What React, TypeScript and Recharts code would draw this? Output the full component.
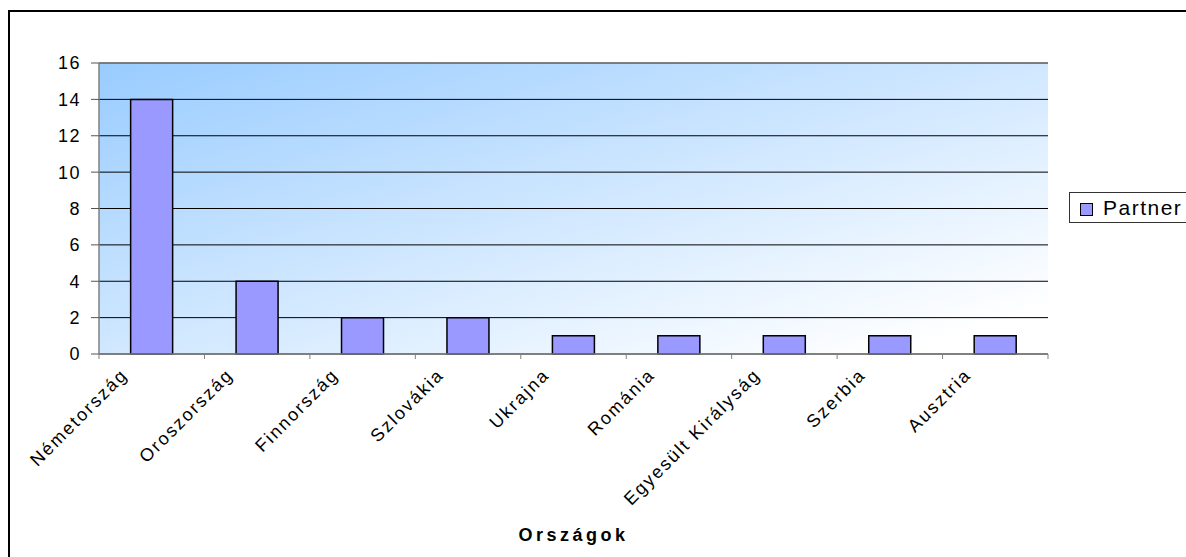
import React from 'react';
import { BarChart, Bar, XAxis, YAxis, CartesianGrid, ReferenceLine } from 'recharts';

const categories = [
  'Németország',
  'Oroszország',
  'Finnország',
  'Szlovákia',
  'Ukrajna',
  'Románia',
  'Egyesült Királyság',
  'Szerbia',
  'Ausztria',
];
const partnerValues = [14, 4, 2, 2, 1, 1, 1, 1, 1];
const yTicks = [0, 2, 4, 6, 8, 10, 12, 14, 16];
const seriesName = 'Partner';
const axisTitle = 'Országok';

const data = categories.map((c, i) => ({ name: c, value: partnerValues[i] }));

const FONT = '"Liberation Sans", Arial, sans-serif';

const XTick = (props: any) => {
  const { x, y, payload, index } = props;
  const off = payload && typeof payload.offset === 'number' ? payload.offset : 52.7;
  const ax = x - 23;
  const ay = y + 22;
  return (
    <g>
      <line x1={x - off} x2={x - off} y1={y} y2={y + 5} stroke="#808080" strokeWidth={1} />
      {index === categories.length - 1 && (
        <line x1={x + off} x2={x + off} y1={y} y2={y + 5} stroke="#808080" strokeWidth={1} />
      )}
      <text
        x={ax}
        y={ay}
        transform={`rotate(-45, ${ax}, ${ay})`}
        textAnchor="end"
        fontFamily={FONT}
        fontSize={18}
        letterSpacing={2}
        fill="#000"
      >
        {payload.value}
      </text>
    </g>
  );
};

export default function App() {
  return (
    <div
      style={{
        position: 'absolute',
        left: 0,
        top: 0,
        width: 1186,
        height: 557,
        overflow: 'hidden',
        background: '#fff',
      }}
    >
      <div
        style={{
          position: 'absolute',
          left: 8,
          top: 10,
          width: 1300,
          height: 700,
          borderTop: '2px solid #000',
          borderLeft: '2px solid #000',
        }}
      />
      <div style={{ position: 'absolute', left: 0, top: 0 }}>
        <BarChart
          width={1186}
          height={557}
          data={data}
          margin={{ top: 63, right: 138, bottom: 13, left: 39 }}
          barCategoryGap="30%"
        >
          <defs>
            <linearGradient id="plotGrad" x1="0" y1="0" x2="1" y2="1">
              <stop offset="0%" stopColor="#99CCFF" />
              <stop offset="92%" stopColor="#FFFFFF" />
            </linearGradient>
          </defs>
          <CartesianGrid
            vertical={false}
            stroke="#000"
            strokeWidth={1}
            fill="url(#plotGrad)"
            fillOpacity={1}
          />
          <XAxis
            dataKey="name"
            interval={0}
            height={190}
            tickLine={false}
            tickSize={0}
            tickMargin={0}
            axisLine={{ stroke: '#808080', strokeWidth: 1.5 }}
            tick={<XTick />}
            label={{
              value: axisTitle,
              position: 'insideBottom',
              offset: 3,
              style: {
                fontFamily: FONT,
                fontSize: 18,
                fontWeight: 'bold',
                letterSpacing: 3.5,
                fill: '#000',
              },
            }}
          />
          <YAxis
            width={60}
            domain={[0, 16]}
            ticks={yTicks}
            interval={0}
            tickSize={8}
            tickMargin={10}
            tickLine={{ stroke: '#555' }}
            axisLine={{ stroke: '#808080', strokeWidth: 1.5 }}
            tick={{ fontFamily: FONT, fontSize: 18, letterSpacing: 1.5, fill: '#000' }}
          />
          <YAxis
            yAxisId="right"
            orientation="right"
            width={0}
            tick={false}
            tickLine={false}
            axisLine={{ stroke: '#808080', strokeWidth: 1.5 }}
          />
          <ReferenceLine y={16} stroke="#808080" strokeWidth={1.5} />
          <Bar
            dataKey="value"
            name={seriesName}
            fill="#9999FF"
            stroke="#000"
            strokeWidth={1.5}
            isAnimationActive={false}
          />
        </BarChart>
      </div>
      <div
        style={{
          position: 'absolute',
          left: 1069,
          top: 192,
          width: 140,
          height: 29,
          border: '1px solid #333',
          background: '#fff',
          boxSizing: 'content-box',
        }}
      >
        <div
          style={{
            position: 'absolute',
            left: 10,
            top: 10,
            width: 11,
            height: 11,
            background: '#9999FF',
            border: '1px solid #000',
          }}
        />
        <div
          style={{
            position: 'absolute',
            left: 33,
            top: 2,
            fontFamily: FONT,
            fontSize: 21,
            letterSpacing: 1.5,
            lineHeight: '26px',
            color: '#000',
            whiteSpace: 'nowrap',
          }}
        >
          {seriesName}
        </div>
      </div>
    </div>
  );
}
